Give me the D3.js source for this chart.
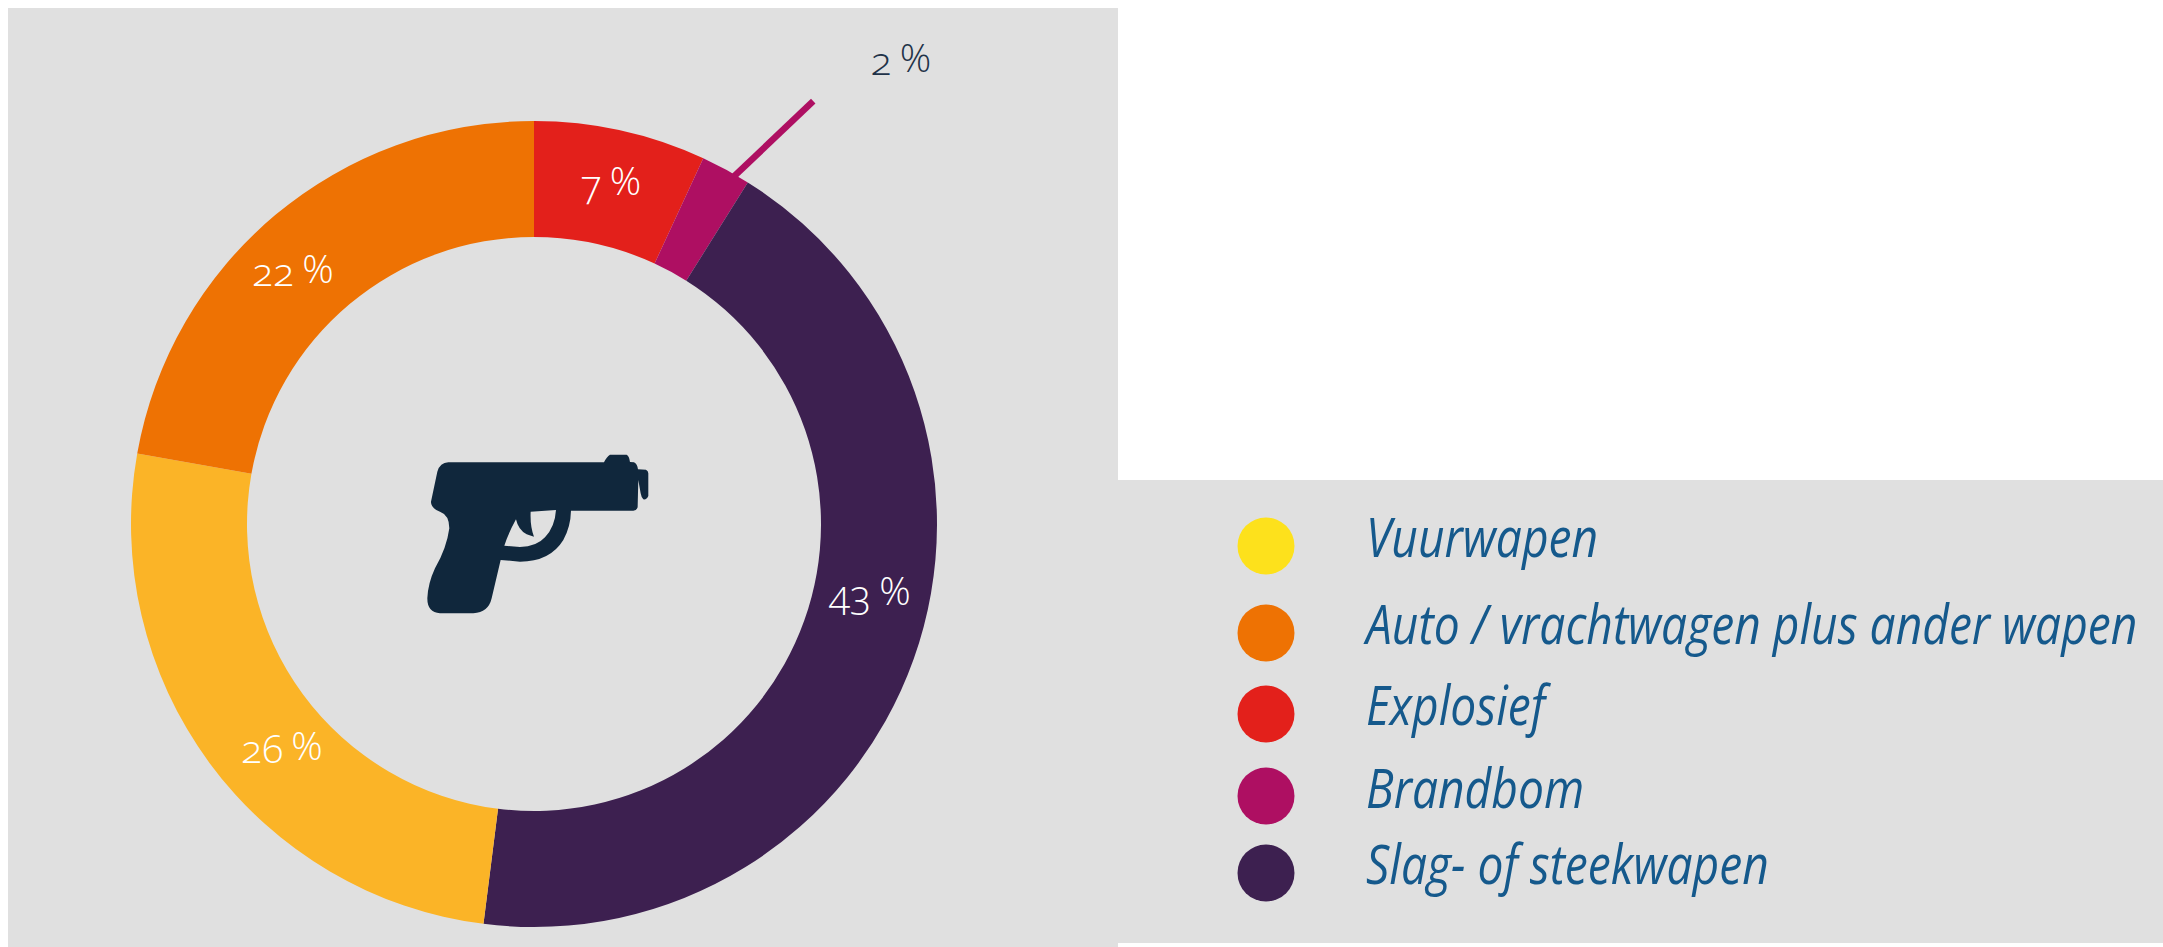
<!DOCTYPE html>
<html>
<head>
<meta charset="utf-8">
<style>
  html, body { margin: 0; padding: 0; background: #fff; }
  svg { display: block; }
  .pct { font-family: "Open Sans", sans-serif; font-weight: 300; font-size: 39px; font-variant-numeric: oldstyle-nums; text-anchor: middle; }
  .legend-label { font-family: "Open Sans", sans-serif; font-style: italic; font-size: 54px; fill: #15598c; }
</style>
<script src="https://cdnjs.cloudflare.com/ajax/libs/d3/7.8.5/d3.min.js"></script>
</head>
<body>
<script>
  // ring order, clockwise from the top. Labels show them rounded
  const sliceNames = ["Explosief", "Brandbom", "Slag- of steekwapen", "Vuurwapen", "Auto / vrachtwagen plus ander wapen"];
  const sliceValues = [6.9, 2.0, 43.1, 25.8, 22.2];
  const sliceColors = ["#e3201b", "#ae0f62", "#3d2050", "#fbb427", "#ee7203"];

  // legend has its own order and a brighter yellow than the ring
  const legendNames = ["Vuurwapen", "Auto / vrachtwagen plus ander wapen", "Explosief", "Brandbom", "Slag- of steekwapen"];
  const legendColors = ["#fde11c", "#ee7203", "#e3201b", "#ae0f62", "#3d2050"];

  const width = 2163;
  const height = 947;
  const cx = 534;
  const cy = 524;
  const outerR = 403;
  const innerR = 287;

  // label spots are hand placed in the original, not on the slice centroid
  const labelSpots = [[611, 198], null, [870, 608], [282, 763], [293, 286]];
  const legendCircleY = [546, 633, 714, 796, 873];
  const legendTextY = [557, 644, 725, 808, 884];

  const svg = d3.select("body").append("svg")
      .attr("width", width)
      .attr("height", height);

  // grey panels
  svg.append("rect").attr("x", 8).attr("y", 8).attr("width", 1110).attr("height", 939).attr("fill", "#e0e0e0");
  svg.append("rect").attr("x", 1118).attr("y", 480).attr("width", 1045).attr("height", 463).attr("fill", "#e0e0e0");

  const pie = d3.pie().sort(null).value(d => d);
  const arc = d3.arc().innerRadius(innerR).outerRadius(outerR);
  const slices = pie(sliceValues);

  const ring = svg.append("g").attr("transform", `translate(${cx},${cy})`);

  // leader for the 2 % slice, starts on the outer edge of that slice
  const a = d3.mean([slices[1].startAngle, slices[1].endAngle]) + 0.025;
  const lx = Math.sin(a) * (outerR - 3);
  const ly = -Math.cos(a) * (outerR - 3);
  ring.append("line")
      .attr("x1", lx).attr("y1", ly)
      .attr("x2", lx + 80).attr("y2", ly - 76)
      .attr("stroke", sliceColors[1])
      .attr("stroke-width", 6.5);

  ring.selectAll("path")
      .data(slices)
      .enter().append("path")
      .attr("d", arc)
      .attr("fill", (d, i) => sliceColors[i]);

  function pctLabel(sel, x, y, value, color) {
    const t = sel.append("text").attr("class", "pct").attr("x", x).attr("y", y).attr("fill", color);
    t.append("tspan").text(Math.round(value));
    t.append("tspan").attr("dx", 8).attr("dy", -3).text("%");
  }

  sliceValues.forEach((v, i) => {
    if (labelSpots[i]) pctLabel(svg, labelSpots[i][0], labelSpots[i][1], v, "#fff");
  });
  pctLabel(svg, 901, 75, sliceValues[1], "#1f3349");

  // pistol icon, traced in 3x crop units
  svg.append("path")
      .attr("transform", "translate(380,420) scale(0.3333)")
      .attr("fill", "#10273c")
      .attr("fill-rule", "evenodd")
      .attr("d", "M205 127 L672 127 Q680 110 690 104 L740 104 Q748 108 750 126 L762 127 Q772 132 774 148 L798 149 Q805 152 805 160 L805 228 Q800 240 790 238 Q784 232 782 220 L775 180 L773 262 Q770 272 760 272 L573 272 Q572 320 550 360 Q510 425 420 425 L362 420 L335 535 Q325 578 280 580 L180 580 Q142 578 142 535 Q144 490 165 445 Q200 385 208 325 Q208 285 180 275 Q152 265 153 245 L172 155 Q180 128 205 127 Z M528 270 Q525 320 495 352 Q470 380 420 381 L373 377 Q385 340 408 298 Q415 330 440 343 L462 350 Q450 320 452 275 Z");

  // legend
  const legend = svg.append("g").selectAll("g")
      .data(legendNames)
      .enter().append("g");

  legend.append("circle")
      .attr("cx", 1266)
      .attr("cy", (d, i) => legendCircleY[i])
      .attr("r", 28.5)
      .attr("fill", (d, i) => legendColors[i]);

  // the original face is much narrower than anything installed, so squeeze it
  legend.append("text")
      .attr("class", "legend-label")
      .attr("transform", (d, i) => `translate(1366,${legendTextY[i]}) scale(0.855,1)`)
      .text(d => d);
</script>
</body>
</html>
